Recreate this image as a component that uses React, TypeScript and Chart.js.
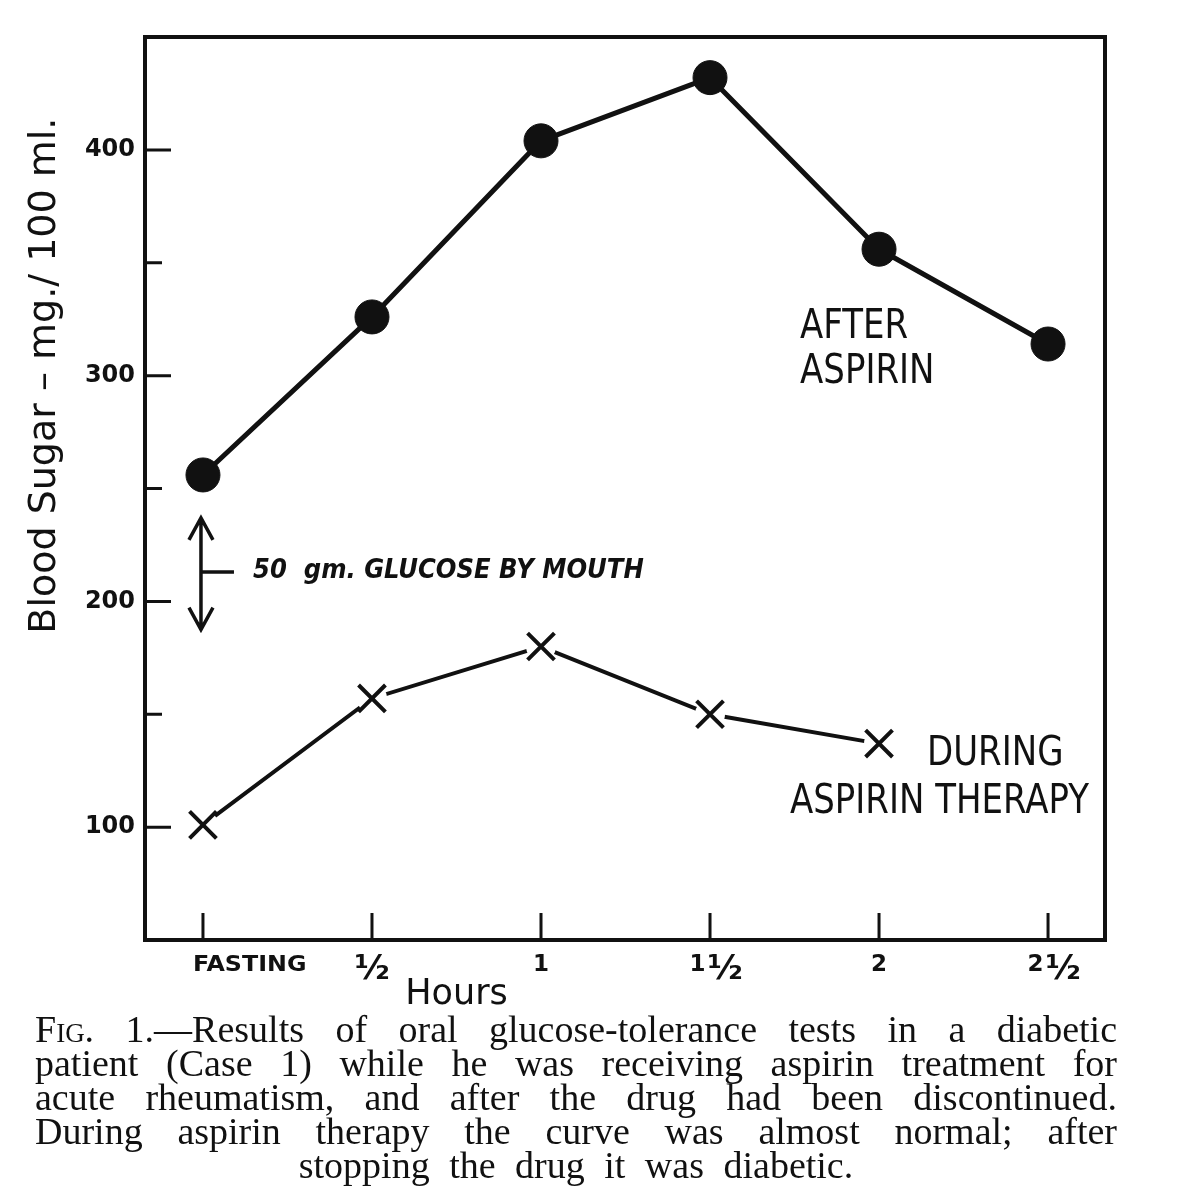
import React, { useEffect, useRef } from "react";
import { Chart, registerables } from "chart.js";

Chart.register(...registerables);

// ---------- data ----------
const hourLabels = ["FASTING", "½", "1", "1½", "2", "2½"];
const hourIndex = [0, 1, 2, 3, 4, 5];
const afterAspirin = [256, 326, 404, 432, 356, 314];
const duringAspirin = [101, 157, 180, 150, 137];
const yLabelledTicks = [100, 200, 300, 400];
const yMinorTicks = [150, 250, 350];
const yTitle = "Blood Sugar – mg./ 100 ml.";
const xTitle = "Hours";
const afterLabel = ["AFTER", "ASPIRIN"];
const duringLabel = ["DURING", "ASPIRIN THERAPY"];
const glucoseNote = "50  gm. GLUCOSE BY MOUTH";
const captionLines = [
  "Results of oral glucose-tolerance tests in a diabetic",
  "patient (Case 1) while he was receiving aspirin treatment for",
  "acute rheumatism, and after the drug had been discontinued.",
  "During aspirin therapy the curve was almost normal; after",
  "stopping the drug it was diabetic.",
];

const INK = "#111111";
const WHOLE_FONT = 'bold 23px "DejaVu Sans"';
const FRACTION_FONT = 'bold 34px "DejaVu Sans"';

function squeezed(ctx: CanvasRenderingContext2D, text: string, x: number, y: number, sx: number) {
  ctx.save();
  ctx.translate(x, y);
  ctx.scale(sx, 1);
  ctx.fillText(text, 0, 0);
  ctx.restore();
}

const decorPlugin = {
  id: "decor",
  afterDraw(chart: any) {
    const { ctx, chartArea: a, scales } = chart;
    const xs = scales.x;
    const ys = scales.y;
    const px = (v: number) => xs.getPixelForValue(v);
    const py = (v: number) => ys.getPixelForValue(v);
    ctx.save();
    ctx.strokeStyle = INK;
    ctx.fillStyle = INK;
    ctx.lineCap = "butt";

    // frame
    ctx.lineWidth = 4;
    ctx.strokeRect(a.left, a.top, a.right - a.left, a.bottom - a.top);

    // inward tick marks
    ctx.lineWidth = 3;
    ctx.beginPath();
    yLabelledTicks.forEach((v) => {
      ctx.moveTo(a.left, py(v));
      ctx.lineTo(a.left + 26, py(v));
    });
    yMinorTicks.forEach((v) => {
      ctx.moveTo(a.left, py(v));
      ctx.lineTo(a.left + 17, py(v));
    });
    hourIndex.forEach((v) => {
      ctx.moveTo(px(v), a.bottom);
      ctx.lineTo(px(v), a.bottom - 27);
    });
    ctx.stroke();

    // x labels
    ctx.textBaseline = "alphabetic";
    const base = a.bottom + 31;
    hourLabels.forEach((lab, i) => {
      const x = px(hourIndex[i]);
      if (i === 0) {
        ctx.font = 'bold 22px "DejaVu Sans"';
        ctx.textAlign = "left";
        ctx.save();
        ctx.translate(x - 10, base);
        ctx.scale(1.08, 1);
        ctx.fillText(lab, 0, 0);
        ctx.restore();
      } else if (lab.includes("½")) {
        const whole = lab.replace("½", "");
        ctx.font = WHOLE_FONT;
        const ww = whole ? ctx.measureText(whole).width + 2 : 0;
        ctx.font = FRACTION_FONT;
        const fw = ctx.measureText("½").width;
        const total = ww + fw;
        const start = x + (whole ? 6 : 0) - total / 2;
        ctx.textAlign = "left";
        if (whole) {
          ctx.font = WHOLE_FONT;
          ctx.fillText(whole, start, base);
        }
        ctx.font = FRACTION_FONT;
        ctx.fillText("½", start + ww, base + 8);
      } else {
        ctx.font = WHOLE_FONT;
        ctx.textAlign = "center";
        ctx.fillText(lab, x, base);
      }
    });

    // x title
    ctx.font = '35px "DejaVu Sans"';
    ctx.textAlign = "center";
    ctx.fillText(xTitle, px(1.5), a.bottom + 64);

    // y title
    ctx.save();
    ctx.translate(a.left - 100, py(300));
    ctx.rotate(-Math.PI / 2);
    ctx.font = '38px "DejaVu Sans"';
    ctx.textAlign = "center";
    ctx.textBaseline = "middle";
    ctx.fillText(yTitle, 0, 0);
    ctx.restore();

    // series annotations
    ctx.textAlign = "left";
    ctx.font = '40px "DejaVu Sans"';
    squeezed(ctx, afterLabel[0], px(3.533), py(316.7), 0.85);
    squeezed(ctx, afterLabel[1], px(3.533), py(316.7) + 45, 0.85);
    squeezed(ctx, duringLabel[0], px(4.284), py(127.5), 0.85);
    squeezed(ctx, duringLabel[1], px(3.473), py(106.3), 0.85);

    // glucose arrow
    const ax = px(0) - 2;
    const top = py(237);
    const bot = py(187.5);
    const mid = py(213);
    ctx.lineWidth = 3.5;
    ctx.lineJoin = "miter";
    ctx.beginPath();
    ctx.moveTo(ax, top);
    ctx.lineTo(ax, bot);
    ctx.moveTo(ax - 12, top + 22);
    ctx.lineTo(ax, top);
    ctx.lineTo(ax + 12, top + 22);
    ctx.moveTo(ax - 12, bot - 22);
    ctx.lineTo(ax, bot);
    ctx.lineTo(ax + 12, bot - 22);
    ctx.moveTo(ax, mid);
    ctx.lineTo(ax + 33, mid);
    ctx.stroke();
    ctx.font = 'italic bold 27px "DejaVu Sans"';
    squeezed(ctx, glucoseNote, px(0.296), py(210.4), 0.9);

    ctx.restore();
  },
};

export default function App() {
  const canvasRef = useRef<HTMLCanvasElement | null>(null);

  useEffect(() => {
    const canvas = canvasRef.current;
    if (!canvas) return;
    const duringPoints = duringAspirin.map((y, i) => ({ x: hourIndex[i], y }));
    const chart = new Chart(canvas, {
      type: "line",
      data: {
        datasets: [
          {
            label: "After aspirin",
            data: hourIndex.map((x, i) => ({ x, y: afterAspirin[i] })),
            borderColor: INK,
            backgroundColor: INK,
            borderWidth: 5,
            pointRadius: 17,
            pointStyle: "circle",
            pointBackgroundColor: INK,
            pointBorderColor: INK,
            pointBorderWidth: 1,
            borderJoinStyle: "round",
            order: 1,
          },
          {
            label: "During aspirin therapy (line)",
            data: duringPoints,
            borderColor: INK,
            borderWidth: 4,
            pointRadius: 0,
            order: 4,
          },
          {
            label: "During aspirin therapy (gap)",
            data: duringPoints,
            showLine: false,
            pointRadius: 15,
            pointStyle: "circle",
            pointBackgroundColor: "#ffffff",
            pointBorderColor: "#ffffff",
            pointBorderWidth: 0,
            order: 3,
          },
          {
            label: "During aspirin therapy",
            data: duringPoints,
            showLine: false,
            pointRadius: 19,
            pointStyle: "crossRot",
            pointBorderColor: INK,
            pointBorderWidth: 4,
            order: 2,
          },
        ],
      },
      options: {
        animation: false,
        responsive: false,
        maintainAspectRatio: false,
        devicePixelRatio: 1,
        layout: { padding: { top: 37, right: 88, left: 0, bottom: 0 } },
        plugins: { legend: { display: false }, tooltip: { enabled: false } },
        scales: {
          x: {
            type: "linear",
            min: -0.343,
            max: 5.337,
            grid: { display: false },
            border: { display: false },
            ticks: { display: false },
            afterFit: (s: any) => {
              s.height = 260;
              s.paddingLeft = 0;
              s.paddingRight = 0;
            },
          },
          y: {
            type: "linear",
            min: 50,
            max: 450,
            grid: { display: false, drawTicks: false },
            border: { display: false },
            ticks: {
              stepSize: 50,
              padding: 10,
              color: INK,
              font: { family: '"DejaVu Sans"', size: 24, weight: "bold" },
              callback: (v: any) => (yLabelledTicks.includes(Number(v)) ? String(v) : ""),
            },
            afterFit: (s: any) => {
              s.width = 145;
              s.paddingTop = 0;
              s.paddingBottom = 0;
            },
          },
        },
      },
      plugins: [decorPlugin],
    } as any);
    return () => chart.destroy();
  }, []);

  return (
    <div style={{ position: "absolute", left: 0, top: 0, width: 1193, height: 1200, background: "#fff" }}>
      <canvas ref={canvasRef} width={1193} height={1200} style={{ display: "block" }} />
      <div
        style={{
          position: "absolute",
          left: 35,
          top: 1012,
          width: 1082,
          fontFamily: '"Liberation Serif", "DejaVu Serif", serif',
          fontSize: 38,
          lineHeight: "34px",
          color: INK,
        }}
      >
        {captionLines.map((line, i) => {
          const last = i === captionLines.length - 1;
          return (
            <div
              key={i}
              style={{
                textAlign: last ? "center" : "justify",
                textAlignLast: last ? "center" : "justify",
                wordSpacing: last ? 10 : undefined,
                whiteSpace: "nowrap",
              } as any}
            >
              {i === 0 ? (
                <>
                  <span style={{ fontVariant: "small-caps" }}>Fig.</span> 1.—{line}
                </>
              ) : (
                line
              )}
            </div>
          );
        })}
      </div>
    </div>
  );
}
